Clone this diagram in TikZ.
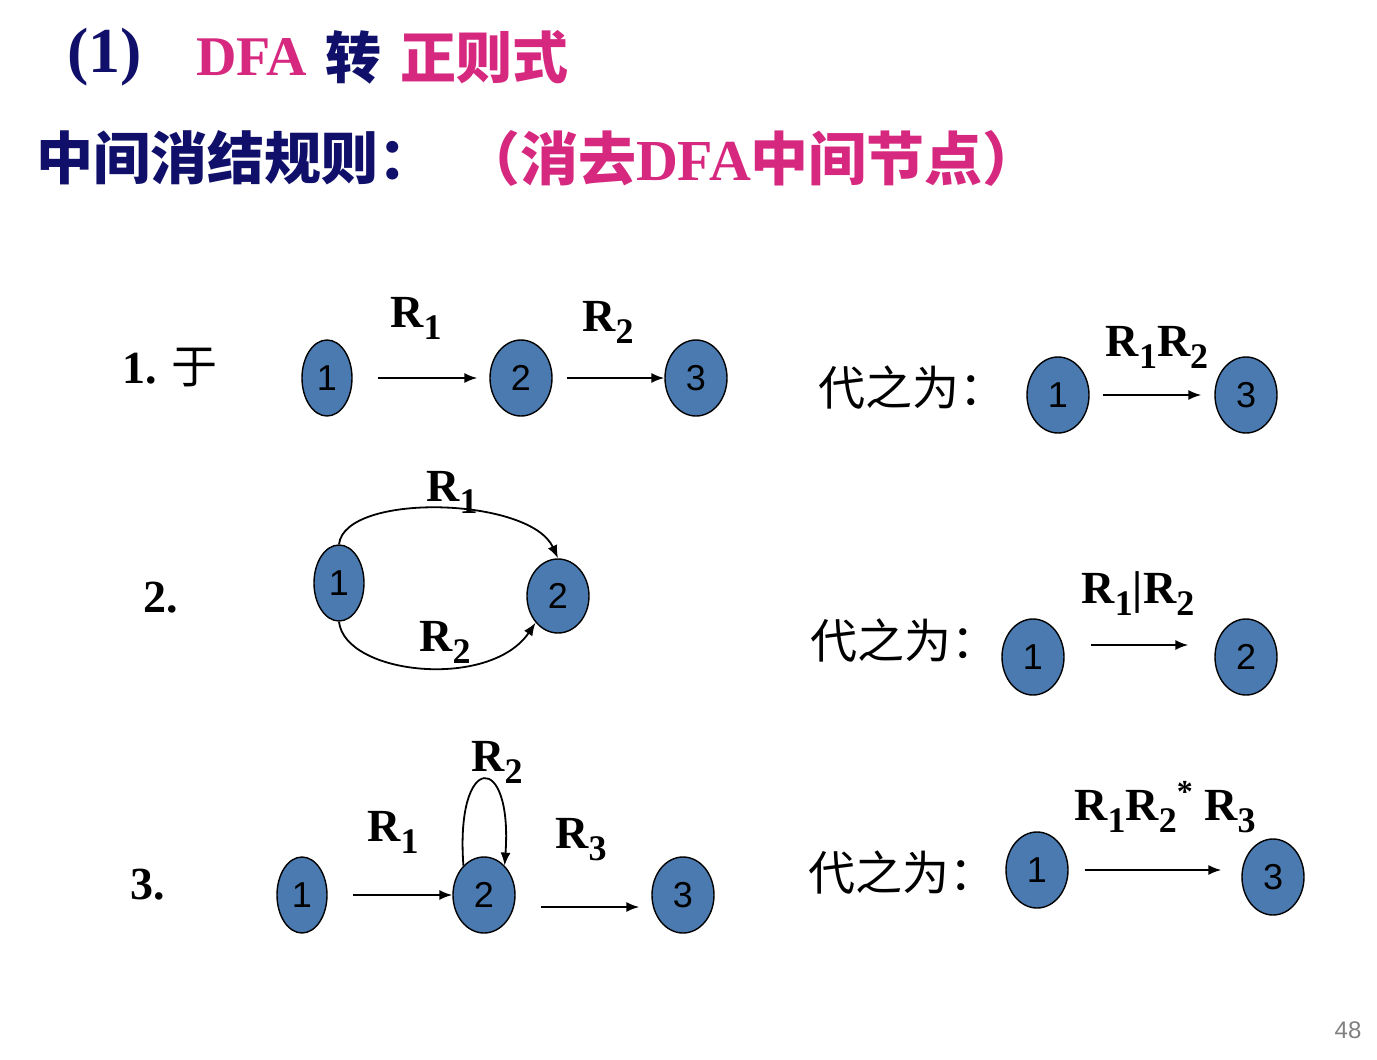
\documentclass[tikz,border=0pt]{standalone}
\usepackage{fontspec}
\setmainfont{Liberation Serif}
\newfontfamily\cjk{Noto Sans CJK SC}
\newfontfamily\arial{Liberation Sans}
\usetikzlibrary{shapes.geometric, arrows.meta, positioning}
\definecolor{navy}{RGB}{16,16,106}
\definecolor{rose}{RGB}{214,40,126}
\definecolor{stateblue}{RGB}{74,122,176}
\newcommand{\sbs}[1]{\raisebox{-6pt}{\fontsize{18}{18}\selectfont #1}} % large, low subscript
\newcommand{\sps}{\raisebox{9pt}{\fontsize{16}{16}\selectfont *}} % the star
\tikzset{
x=0.5pt, y=-0.5pt, % one unit is one pixel of the slide, y grows downwards
>={Latex[length=6.5pt,width=5pt]}, % small filled arrow heads
dstate/.style={ellipse, draw, line width=0.7pt, fill=stateblue, inner sep=0pt,
  minimum width=31pt, minimum height=38pt, font=\arial\fontsize{18}{18}\selectfont}, % the blue states
narrow/.style={minimum width=25pt}, % the thinner state 1 on the left
trans/.style={->, line width=0.9pt}, % the transitions
lbl/.style={font=\bfseries\fontsize{23}{23}\selectfont}, % R labels
rowlbl/.style={font=\fontsize{23}{23}\selectfont}, % 1. 2. 3.
subst/.style={font=\cjk\fontsize{23.5}{23.5}\selectfont}, % the right-hand text
}

\begin{document}
\begin{tikzpicture}
  \useasboundingbox (0,0) rectangle (1377,1060);

  % heading
  \node[anchor=west, text=navy, font=\bfseries\fontsize{32}{32}\selectfont] (t1) at (60,57) {(1)};
  \node[anchor=west, text=rose, font=\bfseries\fontsize{28}{28}\selectfont] (t2) at (189,57) {DFA};
  \node[anchor=west, text=navy, font=\cjk\bfseries\fontsize{28}{28}\selectfont] (t3) at (318,57) {转};
  \node[anchor=west, text=rose, font=\cjk\bfseries\fontsize{28}{28}\selectfont] (t4) at (393,57) {正则式};
  \node[anchor=west, text=navy, font=\cjk\bfseries\fontsize{28.5}{28.5}\selectfont] (h1) at (29,158) {中间消结规则：};
  \node[anchor=west, text=rose, font=\cjk\bfseries\fontsize{29}{29}\selectfont] (h2) at (455,158)
    {（消去{\rmfamily DFA}中间节点）};

  % 1.
  \node[rowlbl] (r1) at (170,368) {\textbf{1.} {\cjk 于}};
  \node[dstate, narrow] (a1) at (327,378) {1};
  \node[dstate] (a2) at (521,378) {2};
  \node[dstate] (a3) at (696,378) {3};
  \draw[trans, shorten <=12.5pt, shorten >=6pt] (a1) -- (a2);
  \draw[trans, shorten <=7pt] (a2) -- (a3);
  \node[lbl] (l11) at (416,318) {R\sbs{1}};
  \node[lbl] (l12) at (608,322) {R\sbs{2}};

  \node[subst] (s1) at (912,388) {代之为：};
  \node[dstate] (b1) at (1058,395) {1};
  \node[dstate] (b3) at (1246,395) {3};
  \draw[trans, shorten <=6.5pt, shorten >=6.5pt] (b1) -- (b3);
  \node[lbl] (l1r) at (1157,347) {R\sbs{1}R\sbs{2}};

  % 2.
  \node[rowlbl] (r2) at (161,598) {\textbf{2.}};
  \node[dstate, narrow] (c1) at (339,583) {1};
  \node[dstate, minimum height=37pt] (c2) at (558,596) {2};
  \draw[trans] (c1.north) .. controls (345,492) and (530,497) .. (c2.north);
  \draw[trans] (c1.south) .. controls (345,675) and (490,690) .. (c2.south west);
  \node[lbl] (l21) at (452,492) {R\sbs{1}};
  \node[lbl] (l22) at (445,642) {R\sbs{2}};

  \node[subst] (s2) at (904,641) {代之为：};
  \node[dstate] (d1) at (1033,657) {1};
  \node[dstate] (d2) at (1246,657) {2};
  \draw[trans] ([xshift=13pt,yshift=6pt]d1.east) -- ([xshift=-13pt,yshift=6pt]d2.west);
  \node[lbl] (l2r) at (1138,594) {R\sbs{1}|R\sbs{2}};

  % 3.
  \node[rowlbl] (r3) at (148,885) {\textbf{3.}};
  \node[dstate, narrow] (e1) at (302,895) {1};
  \node[dstate] (e2) at (484,895) {2};
  \node[dstate] (e3) at (683,895) {3};
  \draw[trans, shorten <=12.5pt] (e1) -- (e2);
  \draw[trans] (e2.125) .. controls (455,751) and (513,751) .. (e2.55);
  \draw[trans] ([xshift=12.5pt,yshift=-6pt]e2.east) -- ([xshift=-6pt,yshift=-6pt]e3.west);
  \node[lbl] (l31) at (393,832) {R\sbs{1}};
  \node[lbl] (l32) at (497,762) {R\sbs{2}};
  \node[lbl] (l33) at (581,840) {R\sbs{3}};

  \node[subst] (s3) at (902,873) {代之为：};
  \node[dstate] (f1) at (1037,870) {1};
  \node[dstate] (f3) at (1273,877) {3};
  \draw[trans] ([xshift=8pt]f1.east) -- ([xshift=-10pt,yshift=3.5pt]f3.west);
  \node[lbl] (l3r) at (1165,807) {R\sbs{1}R\sbs{2}\sps{} R\sbs{3}};

  \node[text=gray, font=\arial\fontsize{12}{12}\selectfont] (pg) at (1348,1030) {48};
\end{tikzpicture}
\end{document}
